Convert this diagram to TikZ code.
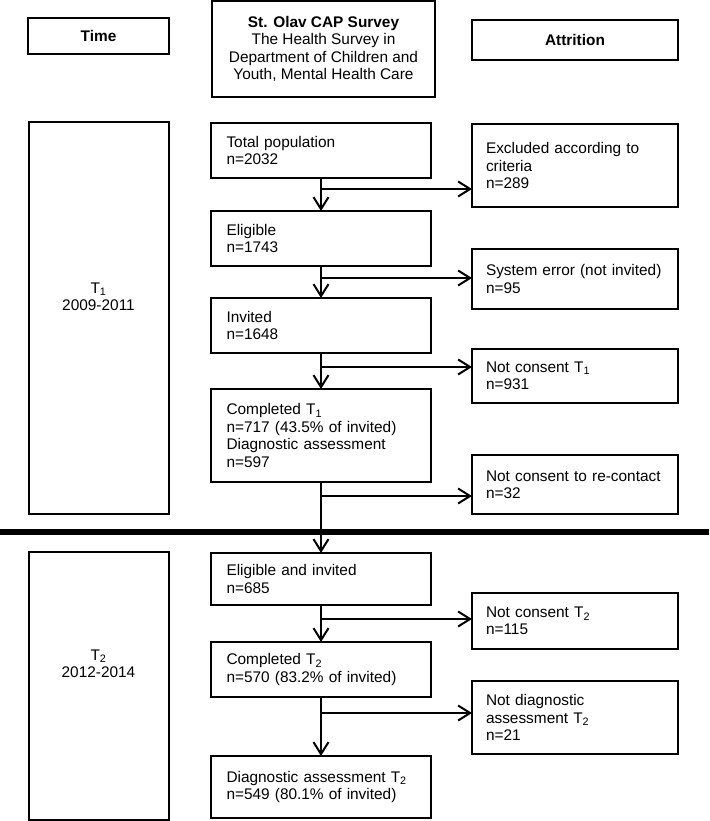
\documentclass[tikz,border=0pt]{standalone}
\usepackage{fontspec}
\setmainfont{Liberation Sans}
\usetikzlibrary{arrows.meta}
\usetikzlibrary{positioning}
\tikzset {
  flow path/.style = {
    draw = black,
    line width = 2pt
  },
  % path style with an open arrow at its end
  arr/.style = {
    flow path,
    -{Straight Barb[length=12pt, width=15pt]}
  },
  % path style with no arrows
  narr/.style = {
    flow path
  }
}
\tikzset {
  flow node/.style = {
    draw = black,
    line width = 2pt,
    inner sep = 0pt,
    outer sep = 0pt,
    font = \fontsize{15.4}{17.4}\selectfont
  },
  % column heads
  head/.style = {
    flow node,
    align = center
  },
  % time periods on the left
  period/.style = {
    flow node,
    align = center,
    minimum width = 140pt,
    text height = 12pt
  },
  % steps of the main column
  stage/.style = {
    flow node,
    align = left,
    inner xsep = 15.5pt,
    text width = 189pt
  },
  % attrition boxes on the right
  loss/.style = {
    flow node,
    align = left,
    inner xsep = 14pt,
    text width = 178pt
  },
  node distance = 33pt
}
\begin{document}
\begin{tikzpicture}[x=1pt, y=-1pt]
    \useasboundingbox (0,0) rectangle (709,821);

    % heads
    \node[head, minimum width=223pt, minimum height=96pt] (survey) at (323.5,49)
      {\textbf{St. Olav CAP Survey}\\The Health Survey in\\Department of Children and\\Youth, Mental Health Care};
    \node[head, minimum width=141pt, minimum height=36pt] (time) at (98.5,36) {\textbf{Time}};
    \node[head, minimum width=206pt, minimum height=40pt] (attrition) at (575,40) {\textbf{Attrition}};

    % periods
    \node[period, minimum height=392pt, text depth=27pt] (t1) [below=68pt of time] {T\textsubscript{1}\\2009-2011};
    \node[period, minimum height=268pt, text depth=29pt] (t2) [below=38pt of t1] {T\textsubscript{2}\\2012-2014};

    % main column
    \node[stage, minimum height=55pt] (total) at (321,150.5) {Total population\\n=2032};
    \node[stage, minimum height=55pt] (eligible) [below=33pt of total] {Eligible\\n=1743};
    \node[stage, minimum height=55pt] (invited) [below=32pt of eligible] {Invited\\n=1648};
    \node[stage, minimum height=93pt] (completed1) [below=36pt of invited]
      {Completed T\textsubscript{1}\\n=717 (43.5\% of invited)\\Diagnostic assessment\\n=597};
    \node[stage, minimum height=52pt] (reinvited) [below=71pt of completed1] {Eligible and invited\\n=685};
    \node[stage, minimum height=55pt] (completed2) [below=37pt of reinvited]
      {Completed T\textsubscript{2}\\n=570 (83.2\% of invited)};
    \node[stage, minimum height=62pt] (diagnostic2) [below=59pt of completed2]
      {Diagnostic assessment T\textsubscript{2}\\n=549 (80.1\% of invited)};

    % attrition column
    \node[loss, minimum height=83pt] (excluded) at (575,165.5) {Excluded according to\\criteria\\n=289};
    \node[loss, minimum height=60pt] (syserror) at (575,279) {System error (not invited)\\n=95};
    \node[loss, minimum height=54pt] (noconsent1) at (575,376) {Not consent T\textsubscript{1}\\n=931};
    \node[loss, minimum height=59pt] (nocontact) at (575,484.5) {Not consent to re-contact\\n=32};
    \node[loss, minimum height=56pt] (noconsent2) at (575,621) {Not consent T\textsubscript{2}\\n=115};
    \node[loss, minimum height=73pt] (nodiagnostic) at (575,717.5) {Not diagnostic\\assessment T\textsubscript{2}\\n=21};

    % split points
    \coordinate [below=11pt of total] (split1);
    \coordinate [below=12pt of eligible] (split2);
    \coordinate [below=14pt of invited] (split3);
    \coordinate [below=14pt of completed1] (split4);
    \coordinate [below=14pt of reinvited] (split5);
    \coordinate [below=16pt of completed2] (split6);

    % border between the two waves
    \coordinate (rule-west) at (0,532);
    \coordinate (rule-east) at (709,532);
    \draw[narr, line width=5.5pt] (rule-west) -- (rule-east);

    \draw[arr] (total) -- (eligible);
    \draw[arr] (eligible) -- (invited);
    \draw[arr] (invited) -- (completed1);
    \draw[arr] (completed1) -- (reinvited);
    \draw[arr] (reinvited) -- (completed2);
    \draw[arr] (completed2) -- (diagnostic2);

    \draw[arr] (split1) -- (split1 -| excluded.west);
    \draw[arr] (split2) -- (split2 -| syserror.west);
    \draw[arr] (split3) -- (split3 -| noconsent1.west);
    \draw[arr] (split4) -- (split4 -| nocontact.west);
    \draw[arr] (split5) -- (split5 -| noconsent2.west);
    \draw[arr] (split6) -- (split6 -| nodiagnostic.west);
  \end{tikzpicture}
\end{document}
